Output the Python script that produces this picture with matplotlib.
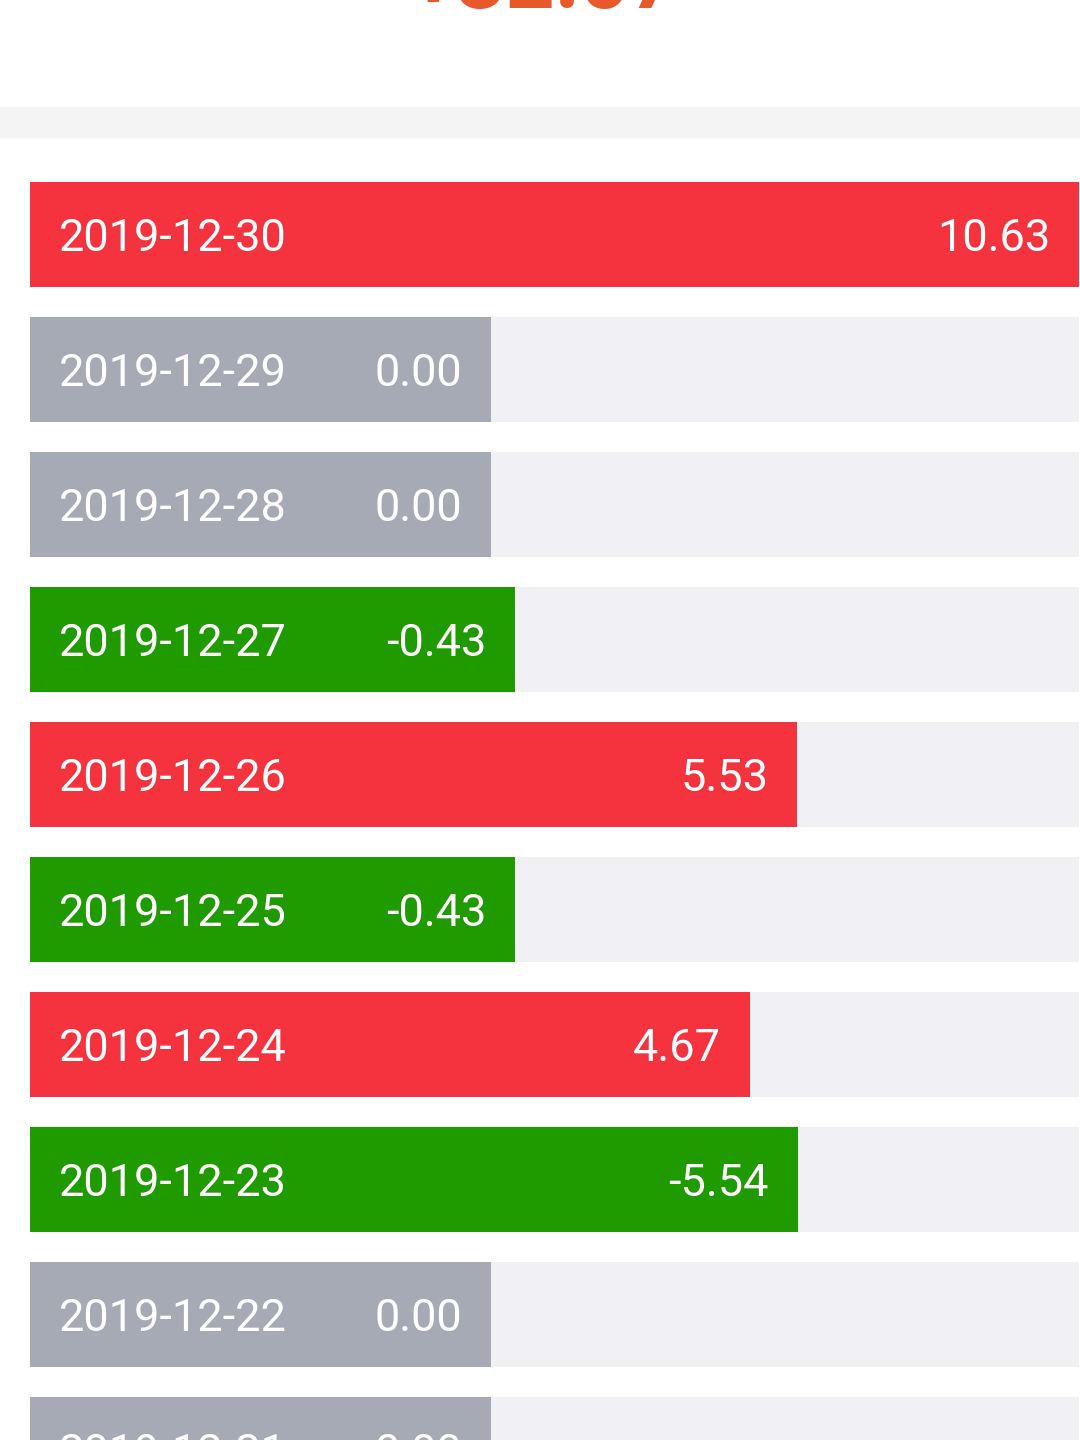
import matplotlib
matplotlib.use("Agg")
import matplotlib.pyplot as plt
from matplotlib.patches import Rectangle

dates = ["2019-12-30", "2019-12-29", "2019-12-28", "2019-12-27", "2019-12-26",
         "2019-12-25", "2019-12-24", "2019-12-23", "2019-12-22", "2019-12-21"]
values = [10.63, 0.00, 0.00, -0.43, 5.53, -0.43, 4.67, -5.54, 0.00, 0.00]
total_label = "+32.07"

RED = "#f5333f"
GREEN = "#1f9b00"
GRAY = "#a6aab5"
TRACK = "#f0f0f5"
ORANGE = "#e8582a"
BASE = 8.35  # minimum bar length in value units

W, H = 1080, 1440
fig = plt.figure(figsize=(W / 100, H / 100), dpi=100)
fig.patch.set_facecolor("white")

# headline (cropped at top)
fig.text(545 / W, 1 - 8 / H, total_label, ha="center", va="baseline",
         fontsize=62, fontweight="bold", color=ORANGE, family="Roboto")
# grey separator band
fig.patches.append(Rectangle((0, 1 - 137 / H), 1079 / W, 30 / H,
                             transform=fig.transFigure, color="#f4f4f4", zorder=0))

top_px = 167
ax = fig.add_axes([30 / W, 0, 1049 / W, (H - top_px) / H])
n_rows_visible = (H - top_px) / 135
xmax = BASE + max(abs(v) for v in values)
ax.set_xlim(0, xmax)
ax.set_ylim(n_rows_visible - 0.5, -0.5)
ax.axis("off")

px_per_unit = 1049 / xmax
for i, (d, v) in enumerate(zip(dates, values)):
    color = RED if v > 0 else (GREEN if v < 0 else GRAY)
    ax.barh(i, xmax, height=105 / 135, color=TRACK, zorder=1)
    length = BASE + abs(v)
    ax.barh(i, length, height=105 / 135, color=color, zorder=2)
    ax.text(29 / px_per_unit, i, d, ha="left", va="center_baseline",
            color="white", fontsize=32.5, family="Roboto", zorder=3)
    ax.text(length - 29 / px_per_unit, i, f"{v:.2f}", ha="right",
            va="center_baseline", color="white", fontsize=32.5, family="Roboto", zorder=3)

fig.savefig("out.png", dpi=100)
